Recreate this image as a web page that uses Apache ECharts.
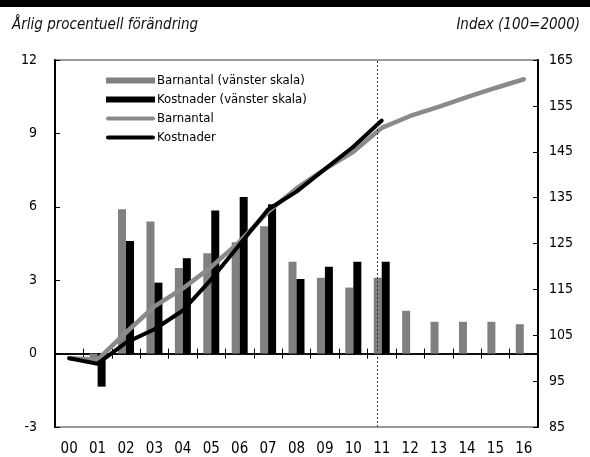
<!DOCTYPE html>
<html><head><meta charset="utf-8">
<script src="https://cdn.jsdelivr.net/npm/echarts@6/dist/echarts.min.js"></script>
<style>html,body{margin:0;padding:0;background:#fff}#c{width:590px;height:457px}</style>
</head><body><div id="c"></div>
<script>
const years = ['00','01','02','03','04','05','06','07','08','09','10','11','12','13','14','15','16'];
const barnantalGrowth = [null,-0.3,5.9,5.4,3.5,4.1,4.55,5.2,3.75,3.1,2.7,3.1,1.75,1.3,1.3,1.3,1.2];
const kostnaderGrowth = [null,-1.35,4.6,2.9,3.9,5.85,6.4,6.1,3.05,3.55,3.75,3.75,null,null,null,null,null];
const barnantalIndex = [100,99.7,105.6,111.3,115.2,119.9,125.4,131.9,137.0,141.2,145.0,150.2,152.8,154.8,156.9,158.9,160.8];
const kostnaderIndex = [100,98.8,103.4,106.3,110.4,117.2,124.8,132.4,136.3,141.2,146.1,151.8,null,null,null,null,null];
const leftTicks = [-3,0,3,6,9,12];
const rightTicks = [85,95,105,115,125,135,145,155,165];
const forecastStart = '11';

const FONT = '"DejaVu Sans Condensed","Liberation Sans Narrow",sans-serif';
const GRAY = '#808080';
const LINEICON = 'path://M2,0 L47,0 A2,2 0 0 1 47,4 L2,4 A2,2 0 0 1 2,0 Z';
const chart = echarts.init(document.getElementById('c'), null, {renderer:'canvas'});
chart.setOption({
  animation:false,
  textStyle:{fontFamily:FONT},
  graphic:[{type:'rect',shape:{x:0,y:0,width:590,height:7},style:{fill:'#000'}}],
  title:[
    {text:'Årlig procentuell förändring',left:7,top:13,textStyle:{fontFamily:FONT,fontStyle:'italic',fontWeight:'normal',fontSize:15,color:'#111'}},
    {text:'Index (100=2000)',right:5,top:13,textStyle:{fontFamily:FONT,fontStyle:'italic',fontWeight:'normal',fontSize:15,color:'#111'}}
  ],
  legend:{
    orient:'vertical',left:101,top:69,itemWidth:49,itemHeight:6,itemGap:6,symbolKeepAspect:true,
    textStyle:{fontFamily:FONT,fontSize:13,color:'#000',padding:[0,0,0,-3]},
    data:[
      {name:'Barnantal (vänster skala)',icon:'rect'},
      {name:'Kostnader (vänster skala)',icon:'rect'},
      {name:'Barnantal',icon:LINEICON},
      {name:'Kostnader',icon:LINEICON}
    ]
  },
  grid:{left:55,right:52,top:60,bottom:28,show:true,borderColor:'#999',borderWidth:2,containLabel:false},
  xAxis:[
    {type:'category',data:years,boundaryGap:true,position:'bottom',
     axisLine:{onZero:true,onZeroAxisIndex:0,lineStyle:{color:'#000',width:1.5}},
     axisTick:{show:true,inside:false,length:5,lineStyle:{color:'#000'}},axisLabel:{show:false},splitLine:{show:false}},
    {type:'category',data:years,boundaryGap:true,position:'bottom',
     axisLine:{onZero:true,onZeroAxisIndex:0,lineStyle:{color:'#000',width:1.5}},
     axisTick:{show:true,inside:true,length:5,lineStyle:{color:'#000'}},axisLabel:{show:false},splitLine:{show:false}},
    {type:'category',data:years,boundaryGap:true,position:'bottom',
     axisLine:{show:false,onZero:false},axisTick:{show:false},
     axisLabel:{show:true,fontFamily:FONT,fontSize:15,color:'#000',margin:15},splitLine:{show:false}}
  ],
  yAxis:[
    {type:'value',position:'left',min:-3,max:12,interval:3,
     axisLine:{show:true,lineStyle:{color:'#000',width:2}},
     axisTick:{show:true,inside:true,length:5,lineStyle:{color:'#000'}},
     axisLabel:{fontFamily:FONT,fontSize:14,color:'#000',margin:18},splitLine:{show:false}},
    {type:'value',position:'right',min:85,max:165,
     axisLine:{show:true,lineStyle:{color:'#000',width:2}},
     axisTick:{show:true,inside:true,length:5,lineStyle:{color:'#000'},customValues:rightTicks},
     axisLabel:{fontFamily:FONT,fontSize:14,color:'#000',margin:11,customValues:rightTicks},splitLine:{show:false}}
  ],
  series:[
    {name:'Barnantal (vänster skala)',type:'bar',xAxisIndex:0,yAxisIndex:0,data:barnantalGrowth,barWidth:8,barGap:'0%',itemStyle:{color:GRAY},
     markLine:{silent:true,symbol:'none',label:{show:false},lineStyle:{color:'#333',type:[2,2],width:1},data:[{xAxis:forecastStart}]}},
    {name:'Kostnader (vänster skala)',type:'bar',xAxisIndex:0,yAxisIndex:0,data:kostnaderGrowth,barWidth:8,barGap:'0%',itemStyle:{color:'#000'}},
    {name:'Barnantal',type:'line',xAxisIndex:0,yAxisIndex:1,data:barnantalIndex,showSymbol:false,symbol:'none',lineStyle:{color:'#8a8a8a',width:4.5,cap:'round'},itemStyle:{color:'#8a8a8a'}},
    {name:'Kostnader',type:'line',xAxisIndex:0,yAxisIndex:1,data:kostnaderIndex,showSymbol:false,symbol:'none',lineStyle:{color:'#000',width:4,cap:'round'},itemStyle:{color:'#000'}}
  ]
});
</script></body></html>
